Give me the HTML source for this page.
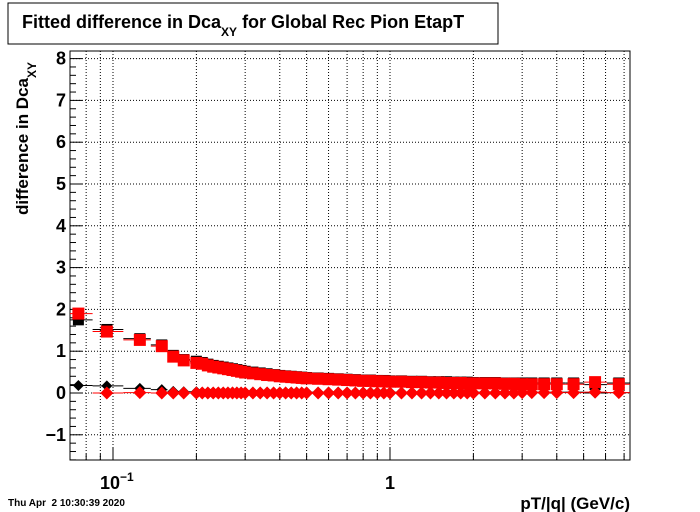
<!DOCTYPE html>
<html><head><meta charset="utf-8"><style>
body{margin:0;background:#fff}
svg{display:block;font-family:"Liberation Sans",Arial,sans-serif;font-weight:bold}
</style></head><body>
<svg id="c" width="700" height="512" viewBox="0 0 700 512">
<rect x="0" y="0" width="700" height="512" fill="#fff"/>
<g>
<rect x="8" y="3" width="490" height="41" fill="#fff" stroke="#000" stroke-width="1"/>
<text x="22" y="28" font-size="18">Fitted difference in Dca<tspan font-size="12" dy="8">XY</tspan><tspan dy="-8"> for Global Rec Pion EtapT</tspan></text>
</g>
<text transform="translate(28,215) rotate(-90)" font-size="17">difference in Dca<tspan font-size="12" dy="8">XY</tspan></text>
<text x="630" y="509" font-size="17" text-anchor="end">pT/|q| (GeV/c)</text>
<text x="8" y="506" font-size="10" style="white-space:pre" xml:space="preserve">Thu Apr  2 10:30:39 2020</text>
<g id="grid"></g><g id="axes"></g><g id="marks"></g>
</svg>
<script>
const xVals=[0.075,0.095,0.125,0.15,0.165,0.18,0.2,0.21,0.22,0.23,0.24,0.25,0.26,0.27,0.28,0.29,0.3,0.32,0.34,0.36,0.38,0.4,0.42,0.44,0.46,0.48,0.5,0.55,0.6,0.65,0.7,0.75,0.8,0.85,0.9,0.95,1.0,1.1,1.2,1.3,1.4,1.5,1.6,1.7,1.8,1.9,2.0,2.2,2.4,2.6,2.8,3.0,3.25,3.6,4.0,4.6,5.5,6.7];
const redMean=[1.9,1.47,1.27,1.12,0.87,0.78,0.72,0.70,0.66,0.63,0.61,0.59,0.57,0.55,0.53,0.51,0.49,0.47,0.45,0.43,0.42,0.40,0.39,0.38,0.37,0.36,0.35,0.34,0.33,0.32,0.31,0.30,0.29,0.29,0.28,0.28,0.27,0.27,0.26,0.26,0.25,0.25,0.24,0.24,0.24,0.23,0.23,0.23,0.23,0.22,0.22,0.21,0.21,0.21,0.21,0.21,0.26,0.21];
const blackMean=[1.75,1.52,1.3,1.15,0.9,0.8,0.76,0.73,0.69,0.66,0.64,0.62,0.6,0.58,0.56,0.54,0.52,0.5,0.48,0.46,0.44,0.42,0.41,0.4,0.39,0.38,0.37,0.36,0.35,0.34,0.33,0.32,0.31,0.31,0.3,0.3,0.29,0.29,0.28,0.28,0.27,0.27,0.27,0.26,0.26,0.26,0.25,0.25,0.25,0.24,0.24,0.24,0.24,0.24,0.24,0.24,0.2,0.24];
const redOffset=[null,0.0,0.01,0.0,0.0,0.0,0.0,0.0,0.0,0.0,0.0,0.0,0.0,0.0,0.0,0.0,0.0,0.0,0.0,0.0,0.0,0.0,0.0,0.0,0.0,0.0,0.0,0.0,0.0,0.0,0.0,0.0,0.0,0.0,0.0,0.0,0.0,0.0,0.0,0.0,0.0,0.0,0.0,0.0,0.0,0.0,0.0,0.0,0.0,0.0,0.0,0.01,0.01,0.01,0.01,0.01,0.02,0.01];
const blackOffset=[0.18,0.17,0.11,0.08,0.04,0.03,0.03,0.02,0.02,0.02,0.02,0.02,0.02,0.02,0.02,0.02,0.02,0.02,0.02,0.02,0.02,0.02,0.02,0.02,0.02,0.02,0.02,0.02,0.02,0.02,0.02,0.02,0.02,0.02,0.02,0.02,0.02,0.02,0.02,0.02,0.02,0.02,0.02,0.02,0.02,0.02,0.02,0.02,0.02,0.02,0.02,0.02,0.02,0.02,0.02,0.02,0.0,0.01];
const yTicks=[-1,0,1,2,3,4,5,6,7,8];
const yTickLabels=["\u22121","0","1","2","3","4","5","6","7","8"];
const xGrid=[0.08,0.09,0.1,0.2,0.3,0.4,0.5,0.6,0.7,0.8,0.9,1,2,3,4,5,6,7];

const L=70,R=630,T=51,B=460;
const X=v=>390+277*Math.log10(v);
const Y=v=>393-41.8*v;
const NS='http://www.w3.org/2000/svg';
function mk(tag,attrs,parent){const e=document.createElementNS(NS,tag);for(const k in attrs)e.setAttribute(k,attrs[k]);parent.appendChild(e);return e;}
const grid=document.getElementById('grid'),axes=document.getElementById('axes'),marks=document.getElementById('marks');

xGrid.forEach(v=>{
 const l=mk('line',{x1:X(v),x2:X(v),y1:T,y2:B,stroke:'#000','stroke-width':1,'stroke-dasharray':'1,2'},grid);
 
 
 const major=(v===0.1||v===1);
 const t=mk('line',{x1:X(v),x2:X(v),y1:B,y2:B-(major?12:6),stroke:'#000'},axes);
 
 
});
yTicks.forEach((v,i)=>{
 const l=mk('line',{x1:L,x2:R,y1:Y(v),y2:Y(v),stroke:'#000','stroke-width':1,'stroke-dasharray':'1,2'},grid);
 
 
 const t=mk('line',{x1:L,x2:L+12,y1:Y(v),y2:Y(v),stroke:'#000'},axes);
 
 
 const tx=mk('text',{x:L-4,y:Y(v)+6,'font-size':18,'text-anchor':'end'},axes);
 tx.textContent=yTickLabels[i];
 
 
});
for(let k=-8;k<=41;k++){const v=k*0.2;if(Math.abs(v-Math.round(v))<1e-6)continue;const y=Y(v);if(y<T||y>B)continue;
 const t=mk('line',{x1:L,x2:L+6,y1:y,y2:y,stroke:'#000'},axes);
 
 }
const fr=mk('rect',{x:L,y:T,width:R-L,height:B-T,fill:'none',stroke:'#000'},axes);


const xl1=mk('text',{x:X(0.1)-13,y:489,'font-size':18},axes);
xl1.innerHTML='10<tspan font-size="12" dy="-8">\u22121</tspan>';


const xl2=mk('text',{x:X(1),y:489,'font-size':18,'text-anchor':'middle'},axes);
xl2.textContent='1';



function edges(i){const lo=i>0?Math.sqrt(xVals[i]*xVals[i-1]):xVals[0]*xVals[0]/Math.sqrt(xVals[0]*xVals[1]);
 const hi=i<xVals.length-1?Math.sqrt(xVals[i]*xVals[i+1]):xVals[i]*xVals[i]/Math.sqrt(xVals[i]*xVals[i-1]);return [Math.max(X(lo),L),Math.min(X(hi),R)];}
function series(vals,color,shape,size,name){
 vals.forEach((v,i)=>{if(v===null)return;const cx=X(xVals[i]),cy=Y(v);const [a,b]=edges(i);
  const eb=mk('line',{x1:a,x2:b,y1:cy,y2:cy,stroke:color,'stroke-width':1},marks);
  
  
  let m;
  if(shape==='sq') m=mk('rect',{x:cx-size/2,y:cy-size/2,width:size,height:size,fill:color},marks);
  else m=mk('polygon',{points:`${cx},${cy-size/2} ${cx+size/2},${cy} ${cx},${cy+size/2} ${cx-size/2},${cy}`,fill:color},marks);
  
  
 });
}
series(blackMean,'#000','sq',11,'black-mean');
series(blackOffset,'#000','di',11,'black-offset');
series(redMean,'#f00','sq',12,'red-mean');
series(redOffset,'#f00','di',13,'red-offset');
</script>
</body></html>
